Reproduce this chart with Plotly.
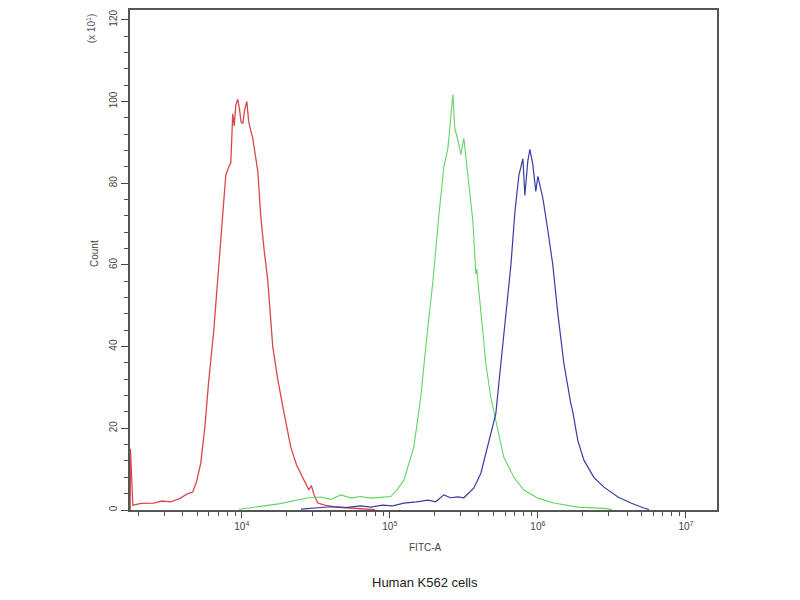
import plotly.graph_objects as go

# ---- data (x as log10 FITC-A, y as count x10^1) ----
red_log_fitc = [3.246, 3.248, 3.264, 3.32, 3.405, 3.46, 3.52, 3.58, 3.635, 3.669, 3.695, 3.723, 3.75,
                3.777, 3.811, 3.845, 3.872, 3.892, 3.912, 3.926, 3.939, 3.949, 3.959, 3.973, 3.985,
                3.995, 4.007, 4.02, 4.034, 4.047, 4.06, 4.074, 4.108, 4.128, 4.15, 4.176, 4.209,
                4.243, 4.284, 4.331, 4.37, 4.399, 4.453, 4.47, 4.49, 4.514, 4.56, 4.62, 4.7, 4.8, 4.9]
red_count = [0, 15, 1.2, 1.6, 1.7, 2.2, 2.0, 2.8, 4.0, 4.4, 7, 11.5, 20,
             31.7, 44, 60, 74, 82, 84, 85, 97, 94, 99, 100.5, 98,
             95, 94.6, 98, 100, 95, 93, 91, 83, 72, 64, 56, 40,
             32, 24, 15.4, 11, 9, 4.9, 6, 3.5, 1.7, 1.2, 0.8, 0.5, 0.3, 0.1]

green_log_fitc = [3.98, 4.05, 4.15, 4.25, 4.31, 4.38, 4.45, 4.534, 4.6, 4.669, 4.74, 4.80, 4.872,
                  4.94, 5.007, 5.05, 5.095, 5.162, 5.209, 5.243, 5.291, 5.331, 5.365, 5.392, 5.412,
                  5.426, 5.439, 5.459, 5.480, 5.500, 5.527, 5.561, 5.581, 5.588, 5.595, 5.615,
                  5.649, 5.682, 5.730, 5.770, 5.838, 5.905, 6.0, 6.108, 6.27, 6.446, 6.5]
green_count = [0.2, 0.6, 1.0, 1.5, 2.0, 2.4, 3.0, 3.2, 2.6, 3.7, 2.9, 3.3, 2.9,
               3.1, 3.3, 5, 7.3, 15.4, 27.6, 40, 56, 72, 84, 88.5, 97.6,
               101.7, 93.4, 90.7, 87, 91, 82, 70.7, 57.8, 59, 56, 48,
               35.8, 27.6, 19.5, 12.9, 8, 4.9, 2.9, 1.7, 0.7, 0.4, 0.1]

blue_log_fitc = [4.40, 4.5, 4.6, 4.7, 4.8, 4.872, 4.95, 5.02, 5.095, 5.18, 5.257, 5.31, 5.365,
                 5.41, 5.459, 5.50, 5.534, 5.568, 5.615, 5.669, 5.716, 5.75, 5.784, 5.818,
                 5.845, 5.872, 5.899, 5.912, 5.932, 5.946, 5.966, 5.986, 6.0, 6.034, 6.068,
                 6.101, 6.135, 6.176, 6.223, 6.236, 6.27, 6.311, 6.378, 6.446, 6.541, 6.628,
                 6.716, 6.75]
blue_count = [0.2, 0.5, 0.8, 0.6, 1.0, 0.7, 1.2, 1.0, 1.7, 2.0, 2.4, 2.0, 3.7,
              3.0, 3.2, 3.0, 4.1, 5.4, 9, 17, 23.6, 35.8, 48, 60,
              73, 82, 86, 77, 85.4, 88.3, 84.6, 78, 81.7, 76.3, 68.3,
              60, 48, 35.8, 26, 24, 17, 12.2, 8, 5.6, 3.2, 1.7,
              0.5, 0.1]

decades = [4, 5, 6, 7]
x_tick_text = ["10<sup>4</sup>", "10<sup>5</sup>", "10<sup>6</sup>", "10<sup>7</sup>"]
y_ticks = [0, 20, 40, 60, 80, 100, 120]

FONT = "Liberation Sans, Arial, sans-serif"

fig = go.Figure()
for lx, cnt, col, w in [(red_log_fitc, red_count, "#d9474a", 1.3),
                        (green_log_fitc, green_count, "#62d462", 1.1),
                        (blue_log_fitc, blue_count, "#3b3ba6", 1.2)]:
    fig.add_trace(go.Scatter(x=[10 ** v for v in lx], y=cnt, mode="lines",
                             line=dict(color=col, width=w), showlegend=False,
                             hoverinfo="skip"))

minor_vals = [m * 10 ** d for d in range(3, 8) for m in range(2, 10)]

fig.update_layout(
    width=800, height=600,
    margin=dict(l=122, r=91, t=0, b=98, pad=0),
    paper_bgcolor="white", plot_bgcolor="white",
    font=dict(family=FONT, size=10, color="#444"),
    xaxis=dict(type="log", range=[3.245, 7.21],
               tickmode="array", tickvals=[10 ** d for d in decades], ticktext=x_tick_text,
               ticks="outside", ticklen=6, tickcolor="#444", tickwidth=1,
               minor=dict(tickmode="array", tickvals=minor_vals, ticks="outside",
                          ticklen=4, tickcolor="#555", tickwidth=1),
               showgrid=False, zeroline=False,
               showline=True, linecolor="#555", linewidth=1.5, mirror=True,
               tickfont=dict(size=10, color="#444")),
    yaxis=dict(range=[0, 122.4], tickmode="array", tickvals=y_ticks,
               tickangle=-90,
               ticks="outside", ticklen=7, tickcolor="#444", tickwidth=1,
               minor=dict(dtick=4, ticks="outside", ticklen=4, tickcolor="#555", tickwidth=1),
               showgrid=False, zeroline=False,
               showline=True, linecolor="#555", linewidth=1.5, mirror=True,
               tickfont=dict(size=10, color="#444")),
    annotations=[
        dict(text="Count", xref="paper", yref="paper", x=-0.0613, y=0.512,
             textangle=-90, showarrow=False, font=dict(size=10, color="#444"),
             xanchor="center", yanchor="middle"),
        dict(text="(x 10<sup>1</sup>)", xref="paper", yref="paper", x=-0.066, y=0.962,
             textangle=-90, showarrow=False, font=dict(size=10, color="#555"),
             xanchor="center", yanchor="middle"),
        dict(text="FITC-A", xref="paper", yref="paper", x=0.5026, y=-0.0757,
             showarrow=False, font=dict(size=10, color="#444"),
             xanchor="center", yanchor="middle"),
        dict(text="Human K562 cells", xref="paper", yref="paper", x=0.5026, y=-0.1454,
             showarrow=False, font=dict(size=13, color="#222"),
             xanchor="center", yanchor="middle"),
    ],
)

fig.write_html("out.html")
